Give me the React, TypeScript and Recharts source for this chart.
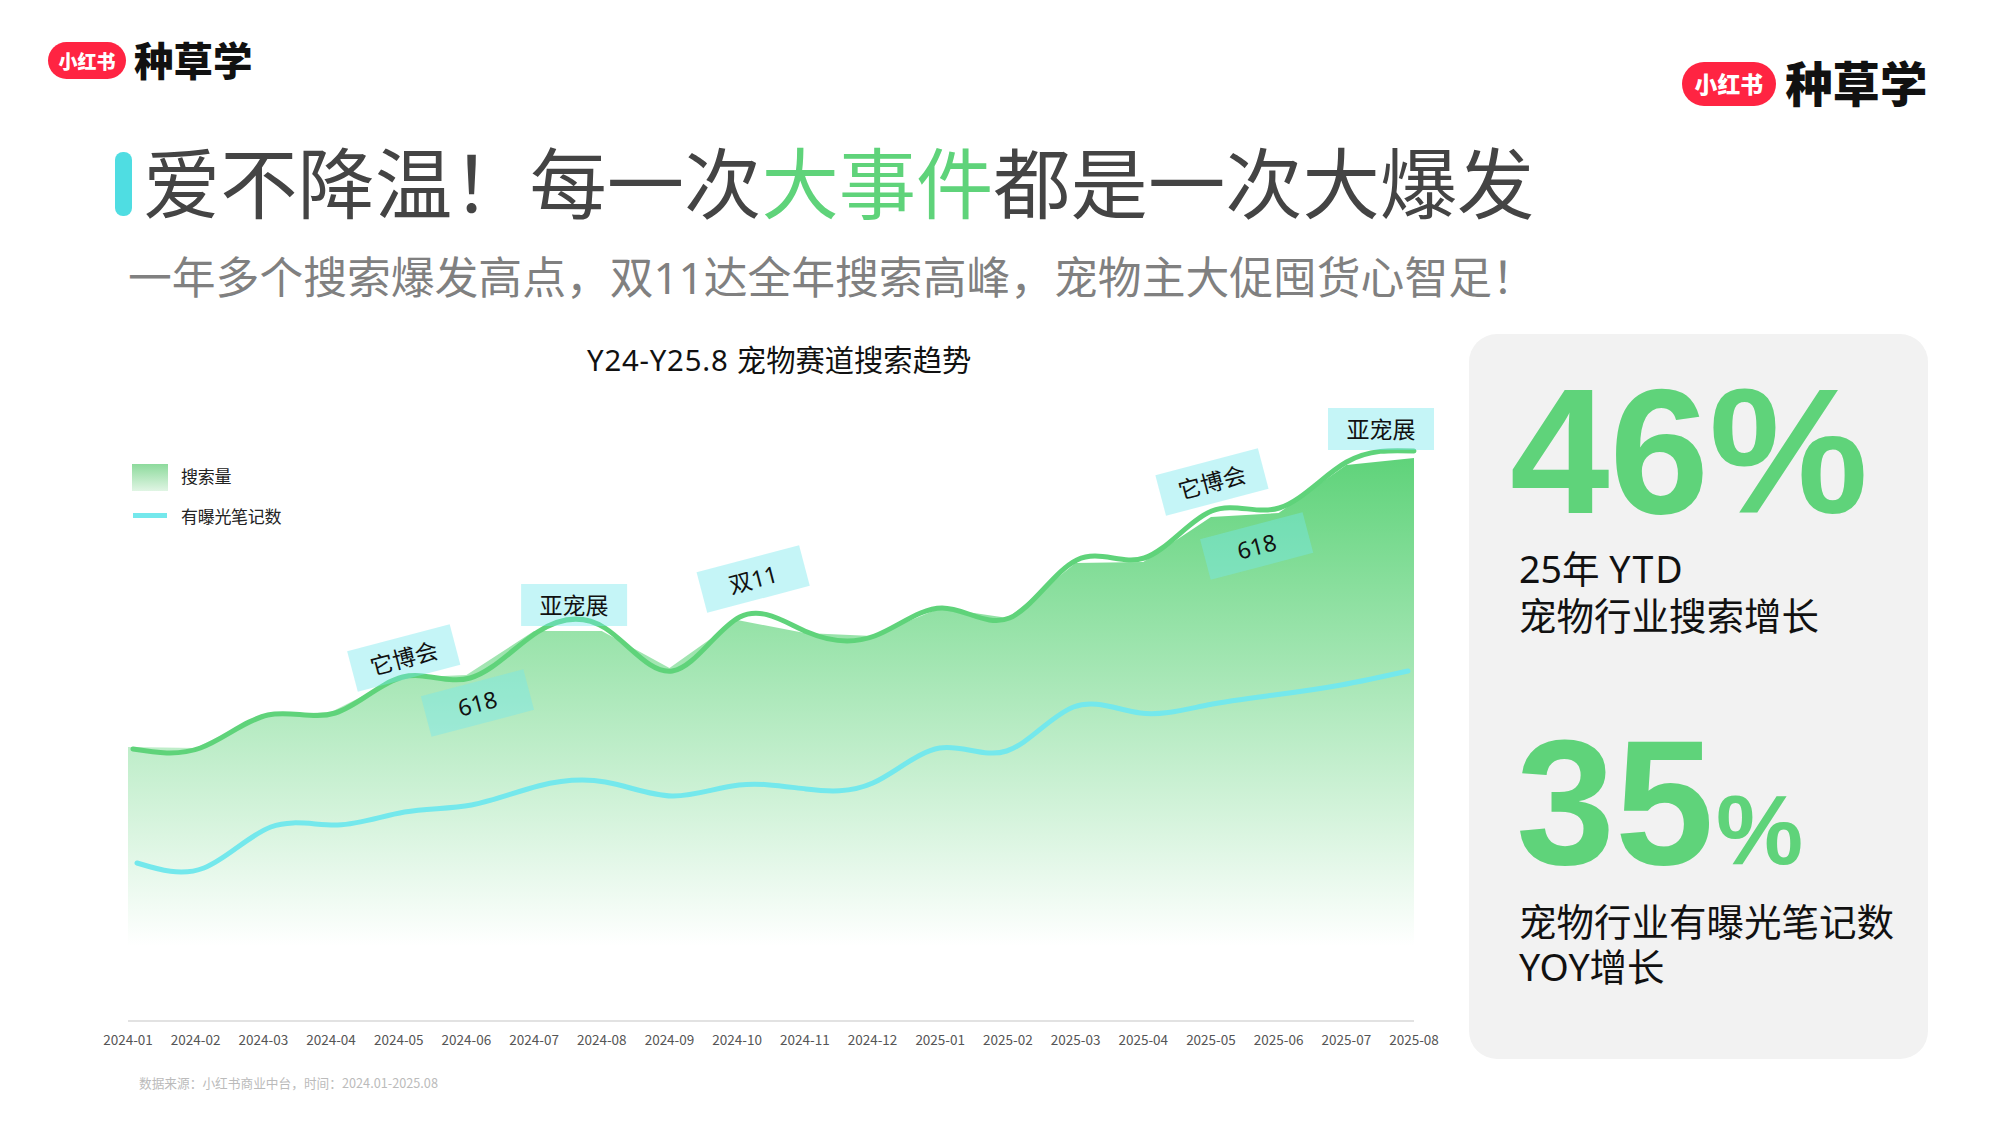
import { Area, ComposedChart, Line, ReferenceDot, XAxis, YAxis } from 'recharts'

const months = [
  '2024-01', '2024-02', '2024-03', '2024-04', '2024-05', '2024-06', '2024-07', '2024-08', '2024-09', '2024-10',
  '2024-11', '2024-12', '2025-01', '2025-02', '2025-03', '2025-04', '2025-05', '2025-06', '2025-07', '2025-08',
]
const searchArea = [274, 273, 306, 309, 343, 346, 390, 390, 353, 401, 388, 385, 413, 403, 458, 459, 504, 508, 556, 563]
const searchLine = [272, 273, 306, 308, 344, 343, 389, 393, 350, 404, 389, 385, 413, 403, 461, 463, 510, 513, 559, 570]
const noteCount = [158, 153, 194, 196, 209, 216, 235, 239, 225, 236, 232, 238, 273, 270, 314, 308, 316, 326, 336, 350]

const calloutText = ['它博会', '618', '亚宠展', '双11', '它博会', '618', '亚宠展']
const calloutMonth = ['2024-05', '2024-06', '2024-07', '2024-10', '2025-05', '2025-06', '2025-08']
const calloutValue = [363, 318, 416, 442, 539, 475, 592]
const calloutDx = [5, 11, 40, 16, 1, -22, -33]
const calloutAngle = [-14.7, -14.7, 0, -14.7, -14.7, -14.7, 0]

const GREEN = '#5fd37a'
const CYAN = '#74e8ec'
const CJK = '"Noto Sans CJK SC", "Noto Sans", sans-serif'
const MIXED = '"Noto Sans", "Noto Sans CJK SC", sans-serif'

const data = months.map((month, i) => ({
  month,
  area: searchArea[i],
  search: searchLine[i],
  notes: noteCount[i],
}))

function Callout({ cx, cy, index }: { cx?: number; cy?: number; index: number }) {
  const x = (cx ?? 0) + calloutDx[index]
  return (
    <g transform={`translate(${x},${cy}) rotate(${calloutAngle[index]})`}>
      <rect x={-53} y={-21} width={106} height={42} fill={CYAN} fillOpacity={0.42} />
      <text textAnchor="middle" dominantBaseline="central" fontSize={23} fontFamily={MIXED} fill="#111">
        {calloutText[index]}
      </text>
    </g>
  )
}

function ChartLegend() {
  return (
    <div style={{ position: 'absolute', left: 132, top: 464, fontFamily: CJK, fontSize: 17, color: '#222', letterSpacing: -0.3 }}>
      <div style={{ display: 'flex', alignItems: 'center', height: 27 }}>
        <div style={{ width: 36, height: 27, background: 'linear-gradient(#8dda9c, #e0f5e4)', marginRight: 13 }} />
        <span style={{ position: 'relative', top: -2 }}>搜索量</span>
      </div>
      <div style={{ display: 'flex', alignItems: 'center', height: 27, marginTop: 11 }}>
        <div style={{ width: 34, height: 5, background: CYAN, marginRight: 14, marginLeft: 1 }} />
        有曝光笔记数
      </div>
    </div>
  )
}

function Logo({ left, top, scale }: { left: number; top: number; scale: number }) {
  return (
    <div style={{ position: 'absolute', left, top, display: 'flex', alignItems: 'center', fontFamily: CJK, fontWeight: 900 }}>
      <div
        style={{
          width: 78 * scale,
          height: 37 * scale,
          borderRadius: 19 * scale,
          background: '#ff2442',
          color: '#fff',
          fontSize: 19 * scale,
          lineHeight: `${37 * scale}px`,
          textAlign: 'center',
          marginRight: 8 * scale,
        }}
      >
        小红书
      </div>
      <div style={{ fontSize: 39.5 * scale, lineHeight: `${31 * scale}px`, color: '#111', marginTop: -4 * scale }}>种草学</div>
    </div>
  )
}

const bigNumber = {
  position: 'absolute',
  fontFamily: '"Liberation Sans", Arial, sans-serif',
  fontWeight: 700,
  color: GREEN,
  lineHeight: 1,
} as const

const panelText = {
  position: 'absolute',
  left: 1519,
  fontFamily: MIXED,
  fontSize: 37.5,
  lineHeight: '44px',
  color: '#111',
  whiteSpace: 'nowrap',
} as const

export default function App() {
  return (
    <div style={{ position: 'absolute', left: 0, top: 0, width: 2000, height: 1125, background: '#fff', overflow: 'hidden' }}>
      <Logo left={48} top={42} scale={1} />
      <Logo left={1682} top={62} scale={1.2} />

      <div style={{ position: 'absolute', left: 115, top: 152, width: 17, height: 64, borderRadius: 8, background: '#4fdde2' }} />
      <div style={{ position: 'absolute', left: 143, top: 124, fontFamily: CJK, fontSize: 77.3, lineHeight: '110px', color: '#444', whiteSpace: 'nowrap' }}>
        爱不降温！每一次<span style={{ color: GREEN }}>大事件</span>都是一次大爆发
      </div>
      <div style={{ position: 'absolute', left: 128, top: 247, fontFamily: MIXED, fontSize: 43.8, lineHeight: '60px', color: '#808080', whiteSpace: 'nowrap' }}>
        一年多个搜索爆发高点，双11达全年搜索高峰，宠物主大促囤货心智足！
      </div>

      <div style={{ position: 'absolute', left: 587, top: 339, fontFamily: MIXED, fontSize: 29.3, lineHeight: '42px', color: '#111', whiteSpace: 'nowrap' }}>
        <span style={{ letterSpacing: 0.8 }}>Y24-Y25.8 </span>宠物赛道搜索趋势
      </div>

      <ChartLegend />

      <div style={{ position: 'absolute', left: 0, top: 0 }}>
        <ComposedChart width={2000} height={1125} data={data} margin={{ top: 400, right: 586, bottom: 74, left: 128 }}>
          <defs>
            <linearGradient id="searchFill" x1="0" y1="0" x2="0" y2="1">
              <stop offset="0%" stopColor={GREEN} />
              <stop offset="100%" stopColor="#ffffff" />
            </linearGradient>
          </defs>
          <XAxis
            dataKey="month"
            height={30}
            interval={0}
            tickLine={false}
            axisLine={{ stroke: '#e2e2e2', strokeWidth: 2 }}
            tick={{ fontSize: 13.5, fill: '#555', fontFamily: CJK }}
            tickMargin={8}
          />
          <XAxis xAxisId="searchLine" dataKey="month" hide padding={{ left: 5, right: 0 }} />
          <XAxis xAxisId="noteLine" dataKey="month" hide padding={{ left: 9, right: 6 }} />
          <YAxis hide domain={[0, 621]} />
          <Area
            dataKey="area"
            type="linear"
            stroke="none"
            fill="url(#searchFill)"
            fillOpacity={1}
            baseValue={75}
            isAnimationActive={false}
            legendType="none"
          />
          <Line
            xAxisId="searchLine"
            dataKey="search"
            type="natural"
            stroke={GREEN}
            strokeWidth={5}
            strokeLinecap="round"
            dot={false}
            isAnimationActive={false}
          />
          <Line
            xAxisId="noteLine"
            dataKey="notes"
            type="natural"
            stroke={CYAN}
            strokeWidth={5}
            strokeLinecap="round"
            dot={false}
            isAnimationActive={false}
          />
          {calloutText.map((text, i) => (
            <ReferenceDot
              key={`${text}-${i}`}
              x={calloutMonth[i]}
              y={calloutValue[i]}
              shape={(props: { cx?: number; cy?: number }) => <Callout cx={props.cx} cy={props.cy} index={i} />}
            />
          ))}
        </ComposedChart>
      </div>

      <div style={{ position: 'absolute', left: 139, top: 1073, fontFamily: CJK, fontSize: 12.7, lineHeight: '20px', color: '#bbb', whiteSpace: 'nowrap' }}>
        数据来源：小红书商业中台，时间：2024.01-2025.08
      </div>

      <div style={{ position: 'absolute', left: 1469, top: 334, width: 459, height: 725, borderRadius: 28, background: '#f2f2f2' }} />
      <div style={{ ...bigNumber, left: 1510, top: 362, fontSize: 179 }}>46%</div>
      <div style={{ ...panelText, top: 547 }}>
        25年 <span style={{ letterSpacing: 2 }}>YTD</span>
      </div>
      <div style={{ ...panelText, top: 594 }}>宠物行业搜索增长</div>
      <div style={{ ...bigNumber, left: 1516, top: 714, fontSize: 178 }}>35</div>
      <div style={{ ...bigNumber, left: 1716, top: 781, fontSize: 98 }}>%</div>
      <div style={{ ...panelText, top: 900 }}>宠物行业有曝光笔记数</div>
      <div style={{ ...panelText, top: 945 }}>YOY增长</div>
    </div>
  )
}
